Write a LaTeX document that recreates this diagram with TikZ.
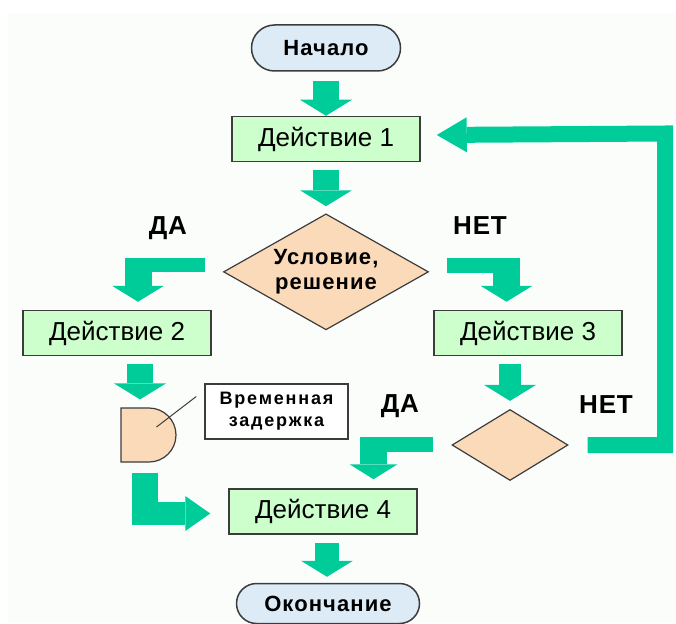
\documentclass[tikz,border=0pt]{standalone}
\usepackage{fontspec}
\setmainfont{Liberation Sans}
\usetikzlibrary{arrows.meta,positioning,shapes.geometric,shapes.misc,calc}
\definecolor{flowgreen}{HTML}{00CC99}
\definecolor{actgreen}{HTML}{CCFFCC}
\definecolor{condpeach}{HTML}{FADAB8}
\definecolor{termblue}{HTML}{DDEBF7}
\definecolor{edgegray}{HTML}{3C3C3C}
\definecolor{panel}{HTML}{FBFDFB}
\newcommand{\actfont}{\fontsize{26}{30}\selectfont}
\newcommand{\termfont}{\fontsize{22}{26}\selectfont\bfseries\addfontfeatures{LetterSpace=5}}
\newcommand{\condfont}{\fontsize{22}{25}\selectfont\bfseries\addfontfeatures{LetterSpace=5}}
\newcommand{\yesnofont}{\fontsize{26}{28}\selectfont\bfseries\addfontfeatures{LetterSpace=3}}
\newcommand{\notefont}{\fontsize{18}{22}\selectfont\bfseries\addfontfeatures{LetterSpace=10}}
\tikzset{
  actbox/.style={
    rectangle, draw=edgegray, fill=actgreen, line width=1.5pt,
    minimum width=188pt, minimum height=45pt,
    font=\actfont, inner sep=0pt
  },
  termbox/.style={
    rounded rectangle, draw=edgegray, fill=termblue, line width=1.5pt,
    minimum width=#1, font=\termfont, inner sep=0pt
  },
  termbox/.default=150pt,
  condbox/.style={
    diamond, draw=edgegray, fill=condpeach, line width=1.2pt,
    aspect=#1, font=\condfont, align=center, inner sep=0pt
  },
  condbox/.default=1.75,
  delaybox/.style={rounded rectangle, rounded rectangle west arc=none,
    draw=edgegray, fill=condpeach, line width=1.2pt,
    minimum width=55pt, minimum height=54pt, inner sep=0pt},
  notebox/.style={rectangle, draw=edgegray, fill=white, line width=1.5pt,
    minimum width=143pt, minimum height=55pt,
    font=\notefont, align=center, inner sep=0pt},
  yesno/.style={font=\yesnofont, inner sep=0pt},
  blockbar/.style={draw=flowgreen, line width=#1},
  blockbar/.default=26pt,
  greenhead/.style 2 args={-{Triangle[width=#1,length=#2,line width=0pt]}},
  blockarrow/.style={blockbar=#1, greenhead={52pt}{16pt}},
  blockarrow/.default=26pt,
}

\begin{document}
\begin{tikzpicture}[x=1pt, y=-1pt]
\useasboundingbox (0,0) rectangle (676,623);
\fill[panel] (8,13) rectangle (676,623);
% main column
\node[termbox=149pt, minimum height=46pt] (start) at (326,48) {Начало};
\node[actbox, below=44pt of start] (act1) {Действие 1};
\node[condbox, minimum width=205pt, minimum height=116pt, below=51pt of act1] (cond) {Условие,\\решение};
\node[actbox] (act2) at (117,333) {Действие 2};
\node[actbox] (act3) at (528,333) {Действие 3};
\node[condbox=1.63, minimum width=116pt, minimum height=71pt] (dia2) at (510,445) {};
\node[delaybox] (delay) at (148.5,435) {};
\node[notebox] (note) at (276.5,411.5) {Временная\\задержка};
\node[actbox] (act4) at (323,511.5) {Действие 4};
\node[termbox=183pt, minimum height=40pt, below=48pt of act4, xshift=5pt] (end) {Окончание};
% labels
\node[yesno] (yes1) at (168,228) {ДА};
\node[yesno] (no1) at (480,226) {НЕТ};
\node[yesno] (yes2) at (400,406) {ДА};
\node[yesno] (no2) at (606,405) {НЕТ};
% bends
\coordinate (yesbend) at (138,265);
\coordinate (nobend) at (506.5,265.5);
\coordinate (yes2bend) at (373.5,444.5);
\coordinate (delaybend) at (145,513.5);
\coordinate (looptop) at (665,133.5);
% straight arrows
\draw[blockarrow, shorten <=9pt] (start.south) -- (act1.north);
\draw[blockarrow, shorten <=8pt, shorten >=7pt] (act1.south) -- (cond.north);
\draw[blockarrow, shorten <=8pt, shorten >=8pt] ([xshift=23pt]act2.south) -- ([xshift=-8.5pt]delay.north);
\draw[blockarrow=22pt, shorten <=8pt, shorten >=8pt] (act3.south -| dia2.north) -- (dia2.north);
\draw[blockarrow=24pt, shorten <=8pt, shorten >=6pt] ([xshift=-1pt]act4.south -| end.north) -- ([xshift=-1pt]end.north);
% elbows
\draw[blockbar=14pt] ([xshift=-18pt]yesbend -| cond.west) -- ([xshift=-13.5pt]yesbend);
\draw[blockarrow=27pt, shorten >=8pt] ([yshift=7pt]yesbend) -- (yesbend |- act2.north);
\draw[blockbar=15pt] ([xshift=18pt]nobend -| cond.east) -- ([xshift=13.5pt]nobend);
\draw[blockarrow=27pt, shorten >=8pt] ([yshift=7.5pt]nobend) -- (nobend |- act3.north);
\draw[blockbar=15pt] ([xshift=-18pt]yes2bend -| dia2.west) -- ([xshift=-13.5pt]yes2bend);
\draw[blockarrow=27pt, greenhead={48pt}{15pt}, shorten >=9pt] ([yshift=7.5pt]yes2bend) -- (yes2bend |- act4.north);
\draw[blockbar=26pt, shorten <=10pt] (delay.south -| delaybend) -- ([yshift=-11.5pt]delaybend);
\draw[blockbar=23pt, greenhead={35pt}{25pt}, shorten >=18pt] ([xshift=-13pt]delaybend) -- (act4.west |- delaybend);
% loop back
\draw[blockbar=16pt, greenhead={35pt}{30pt}] ([xshift=19pt]dia2.east) -| (looptop) -- ($(act1.east)+(16,-4)$);
% callout
\draw[edgegray, line width=1pt] ($(delay.center)+(8,-8)$) -- ($(note.west)+(-8,-15)$);
\end{tikzpicture}
\end{document}
